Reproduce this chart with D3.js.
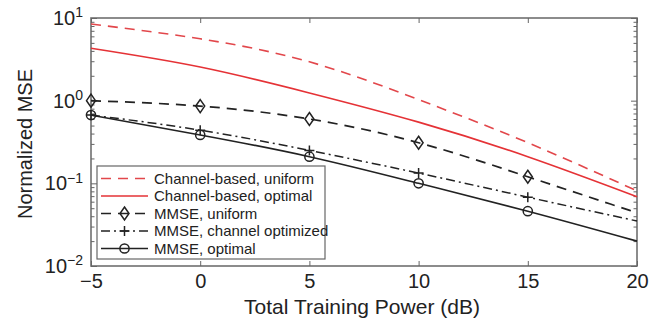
<!DOCTYPE html>
<html>
<head>
<meta charset="utf-8">
<script src="https://cdn.jsdelivr.net/npm/d3@7"></script>
<style>
  html, body { margin: 0; padding: 0; background: #fff; }
  svg text { font-family: "Liberation Sans", Arial, Helvetica, sans-serif; fill: #222; }
</style>
</head>
<body>
<div id="chart"></div>
<script>
// values
const powerDb = [-5, 0, 5, 10, 15, 20];
const chanUniform = [8.45, 5.6, 2.95, 1.03, 0.31, 0.081];
const chanOptimal = [4.3, 2.55, 1.24, 0.55, 0.21, 0.069];
const mmseUniform = [1.0, 0.86, 0.6, 0.31, 0.12, 0.044];
const mmseChanOpt = [0.67, 0.44, 0.25, 0.133, 0.068, 0.035];
const mmseOptimal = [0.67, 0.385, 0.21, 0.1, 0.046, 0.02];
const seriesNames = [
  "Channel-based, uniform",
  "Channel-based, optimal",
  "MMSE, uniform",
  "MMSE, channel optimized",
  "MMSE, optimal"
];
const xTicks = [-5, 0, 5, 10, 15, 20];
const yMajor = [1e-2, 1e-1, 1, 10];

const styles = [
  { color: "#e2474b", dash: "10,7", width: 1.6, marker: null },
  { color: "#e53236", dash: null, width: 1.6, marker: null },
  { color: "#222", dash: "10,7", width: 1.7, marker: "diamond" },
  { color: "#222", dash: "9,4,2,4", width: 1.5, marker: "plus" },
  { color: "#222", dash: null, width: 1.6, marker: "circle" }
];
const seriesValues = [chanUniform, chanOptimal, mmseUniform, mmseChanOpt, mmseOptimal];

const W = 663, H = 322;
const margin = { top: 18, right: 26, bottom: 56, left: 91 };
const width = W - margin.left - margin.right;
const height = H - margin.top - margin.bottom;

const svg = d3.select("#chart").append("svg").attr("width", W).attr("height", H);
const g = svg.append("g").attr("transform", `translate(${margin.left},${margin.top})`);

const x = d3.scaleLinear().domain([-5, 20]).range([0, width]);
const y = d3.scaleLog().domain([1e-2, 10]).range([height, 0]);

const yMinor = [];
for (let e = -2; e < 1; e++) for (let k = 2; k <= 9; k++) yMinor.push(k * Math.pow(10, e));

// frame
g.append("rect").attr("width", width).attr("height", height)
  .attr("fill", "none").attr("stroke", "#707070").attr("stroke-width", 1.6);

function tidy(sel) {
  sel.select(".domain").remove();
  sel.selectAll(".tick line").attr("stroke", "#666").attr("stroke-width", 1);
}

// x axes (bottom with labels, top ticks only)
g.append("g").attr("transform", `translate(0,${height})`)
  .call(d3.axisBottom(x).tickValues(xTicks).tickSizeInner(-5).tickSizeOuter(0).tickPadding(8)
    .tickFormat(d => d < 0 ? "\u2212" + Math.abs(d) : d))
  .call(tidy)
  .selectAll("text").attr("font-size", 20).style("fill", "#222");
g.append("g")
  .call(d3.axisTop(x).tickValues(xTicks).tickSizeInner(-5).tickSizeOuter(0).tickFormat(""))
  .call(tidy);

// y axes
const yLeft = g.append("g")
  .call(d3.axisLeft(y).tickValues(yMajor).tickSizeInner(-6).tickSizeOuter(0).tickPadding(8))
  .call(tidy);
yLeft.selectAll(".tick text").each(function (d) {
  const t = d3.select(this).text("").attr("font-size", 20).style("fill", "#222");
  const exp = Math.round(Math.log10(d));
  t.append("tspan").text("10");
  t.append("tspan").attr("dy", "-0.55em").attr("font-size", 14)
    .text(exp < 0 ? "\u2212" + Math.abs(exp) : exp);
});
g.append("g").call(d3.axisLeft(y).tickValues(yMinor).tickSizeInner(-3.5).tickSizeOuter(0).tickFormat("")).call(tidy);
g.append("g").attr("transform", `translate(${width},0)`)
  .call(d3.axisRight(y).tickValues(yMajor).tickSizeInner(-6).tickSizeOuter(0).tickFormat("")).call(tidy);
g.append("g").attr("transform", `translate(${width},0)`)
  .call(d3.axisRight(y).tickValues(yMinor).tickSizeInner(-3.5).tickSizeOuter(0).tickFormat("")).call(tidy);

// axis titles
svg.append("text").attr("x", margin.left + width / 2 - 2).attr("y", 314)
  .attr("text-anchor", "middle").attr("font-size", 21).text("Total Training Power (dB)");
svg.append("text").attr("transform", `translate(32,${margin.top + height / 2 + 2}) rotate(-90)`)
  .attr("text-anchor", "middle").attr("font-size", 20).text("Normalized MSE");

function drawMarker(sel, type, color) {
  if (type === "circle") {
    sel.append("circle").attr("r", 4.6).attr("fill", "none").attr("stroke", color).attr("stroke-width", 1.5);
  } else if (type === "diamond") {
    sel.append("path").attr("d", "M0,-6.5L4.5,0L0,6.5L-4.5,0Z")
      .attr("fill", "none").attr("stroke", color).attr("stroke-width", 1.5);
  } else if (type === "plus") {
    sel.append("path").attr("d", "M-5,0H5M0,-5V5")
      .attr("fill", "none").attr("stroke", color).attr("stroke-width", 1.5);
  }
}

const line = d3.line().x(d => x(d[0])).y(d => y(d[1])).curve(d3.curveNatural);

seriesValues.forEach((vals, i) => {
  const st = styles[i];
  const pts = powerDb.map((p, j) => [p, vals[j]]);
  g.append("path").datum(pts).attr("d", line)
    .attr("fill", "none").attr("stroke", st.color).attr("stroke-width", st.width)
    .attr("stroke-dasharray", st.dash);
  if (st.marker) {
    pts.filter(p => p[0] < 20).forEach(p => {
      drawMarker(g.append("g").attr("transform", `translate(${x(p[0])},${y(p[1])})`), st.marker, st.color);
    });
  }
});

// legend
const lg = svg.append("g").attr("transform", "translate(97,166)");
lg.append("rect").attr("width", 228).attr("height", 93)
  .attr("fill", "#fff").attr("stroke", "#666").attr("stroke-width", 1.2);
seriesNames.forEach((name, i) => {
  const st = styles[i];
  const cy = 12.5 + i * 17.5;
  lg.append("line").attr("x1", 4).attr("x2", 51).attr("y1", cy).attr("y2", cy)
    .attr("stroke", st.color).attr("stroke-width", st.width).attr("stroke-dasharray", st.dash);
  if (st.marker) drawMarker(lg.append("g").attr("transform", `translate(27.5,${cy})`), st.marker, st.color);
  lg.append("text").attr("x", 57).attr("y", cy + 5).attr("font-size", 15).text(name);
});
</script>
</body>
</html>
